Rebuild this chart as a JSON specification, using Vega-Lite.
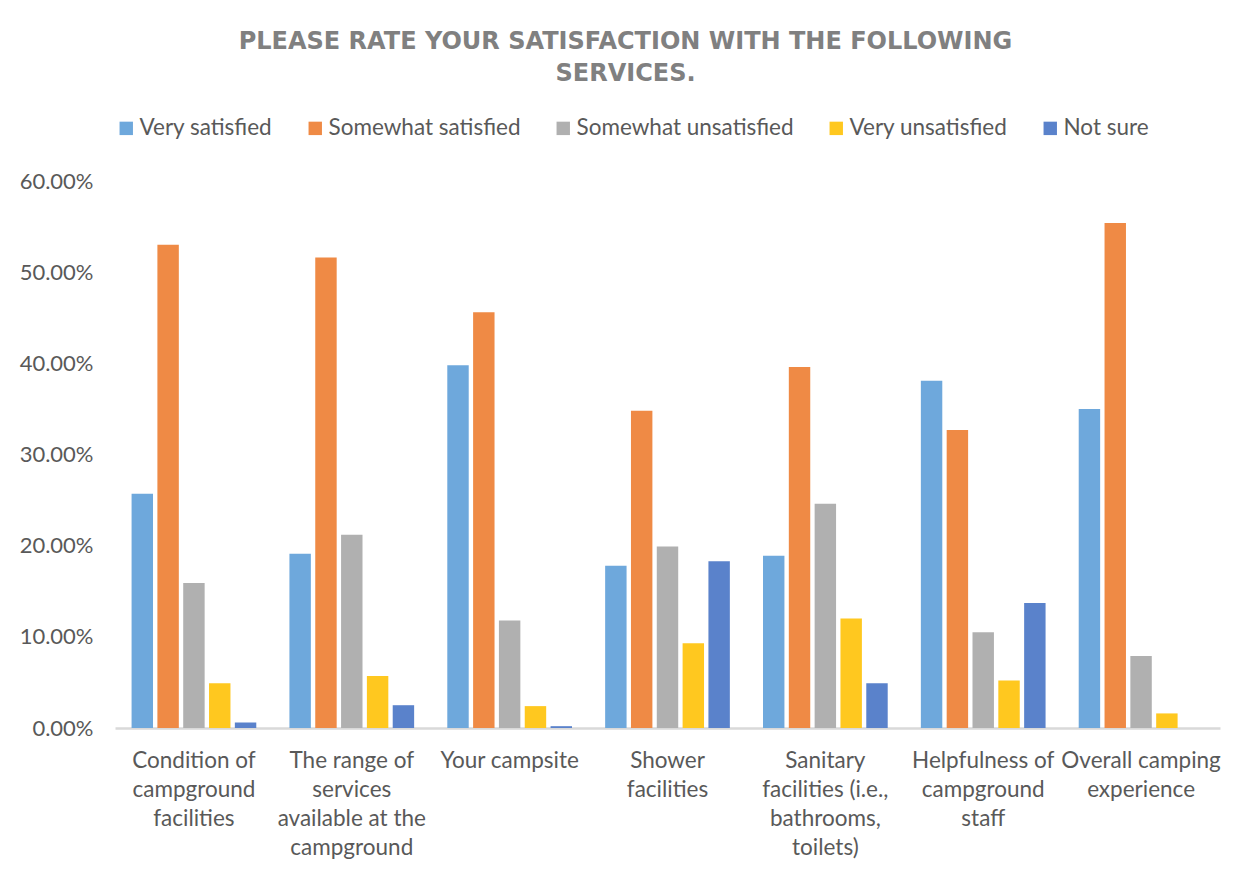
{
  "$schema": "https://vega.github.io/schema/vega-lite/v6.json",
  "width": 1105,
  "height": 547,
  "autosize": {"type": "none"},
  "padding": {"left": 115, "top": 181, "right": 30, "bottom": 150},
  "background": "white",
  "config": {
    "view": {"stroke": null},
    "font": "Lato"
  },
  "title": {
    "text": ["PLEASE RATE YOUR SATISFACTION WITH THE FOLLOWING", "SERVICES."],
    "font": "DejaVu Sans",
    "fontSize": 24,
    "fontWeight": "bold",
    "color": "#808080",
    "lineHeight": 32,
    "anchor": "middle",
    "dx": -42,
    "offset": 31
  },
  "data": {
    "values": [
      {"item": "Condition of campground facilities", "rating": "Very satisfied", "pct": 0.257},
      {"item": "Condition of campground facilities", "rating": "Somewhat satisfied", "pct": 0.530},
      {"item": "Condition of campground facilities", "rating": "Somewhat unsatisfied", "pct": 0.159},
      {"item": "Condition of campground facilities", "rating": "Very unsatisfied", "pct": 0.049},
      {"item": "Condition of campground facilities", "rating": "Not sure", "pct": 0.006},
      {"item": "The range of services available at the campground", "rating": "Very satisfied", "pct": 0.191},
      {"item": "The range of services available at the campground", "rating": "Somewhat satisfied", "pct": 0.516},
      {"item": "The range of services available at the campground", "rating": "Somewhat unsatisfied", "pct": 0.212},
      {"item": "The range of services available at the campground", "rating": "Very unsatisfied", "pct": 0.057},
      {"item": "The range of services available at the campground", "rating": "Not sure", "pct": 0.025},
      {"item": "Your campsite", "rating": "Very satisfied", "pct": 0.398},
      {"item": "Your campsite", "rating": "Somewhat satisfied", "pct": 0.456},
      {"item": "Your campsite", "rating": "Somewhat unsatisfied", "pct": 0.118},
      {"item": "Your campsite", "rating": "Very unsatisfied", "pct": 0.024},
      {"item": "Your campsite", "rating": "Not sure", "pct": 0.002},
      {"item": "Shower facilities", "rating": "Very satisfied", "pct": 0.178},
      {"item": "Shower facilities", "rating": "Somewhat satisfied", "pct": 0.348},
      {"item": "Shower facilities", "rating": "Somewhat unsatisfied", "pct": 0.199},
      {"item": "Shower facilities", "rating": "Very unsatisfied", "pct": 0.093},
      {"item": "Shower facilities", "rating": "Not sure", "pct": 0.183},
      {"item": "Sanitary facilities (i.e., bathrooms, toilets)", "rating": "Very satisfied", "pct": 0.189},
      {"item": "Sanitary facilities (i.e., bathrooms, toilets)", "rating": "Somewhat satisfied", "pct": 0.396},
      {"item": "Sanitary facilities (i.e., bathrooms, toilets)", "rating": "Somewhat unsatisfied", "pct": 0.246},
      {"item": "Sanitary facilities (i.e., bathrooms, toilets)", "rating": "Very unsatisfied", "pct": 0.120},
      {"item": "Sanitary facilities (i.e., bathrooms, toilets)", "rating": "Not sure", "pct": 0.049},
      {"item": "Helpfulness of campground staff", "rating": "Very satisfied", "pct": 0.381},
      {"item": "Helpfulness of campground staff", "rating": "Somewhat satisfied", "pct": 0.327},
      {"item": "Helpfulness of campground staff", "rating": "Somewhat unsatisfied", "pct": 0.105},
      {"item": "Helpfulness of campground staff", "rating": "Very unsatisfied", "pct": 0.052},
      {"item": "Helpfulness of campground staff", "rating": "Not sure", "pct": 0.137},
      {"item": "Overall camping experience", "rating": "Very satisfied", "pct": 0.350},
      {"item": "Overall camping experience", "rating": "Somewhat satisfied", "pct": 0.554},
      {"item": "Overall camping experience", "rating": "Somewhat unsatisfied", "pct": 0.079},
      {"item": "Overall camping experience", "rating": "Very unsatisfied", "pct": 0.016}
    ]
  },
  "mark": {"type": "bar"},
  "encoding": {
    "x": {
      "field": "item",
      "type": "nominal",
      "sort": null,
      "title": null,
      "scale": {"paddingInner": 0.21, "paddingOuter": 0.105},
      "axis": {
        "labelAngle": 0,
        "labelFontSize": 22.5,
        "labelColor": "#595959",
        "labelLineHeight": 29,
        "labelPadding": 32,
        "labelBaseline": "middle",
        "labelOverlap": false,
        "ticks": false,
        "domainColor": "#D9D9D9",
        "domainWidth": 2.5,
        "labelLimit": 220,
        "labelExpr": "datum.value == 'Condition of campground facilities' ? ['Condition of', 'campground', 'facilities'] : datum.value == 'The range of services available at the campground' ? ['The range of', 'services', 'available at the', 'campground'] : datum.value == 'Shower facilities' ? ['Shower', 'facilities'] : datum.value == 'Sanitary facilities (i.e., bathrooms, toilets)' ? ['Sanitary', 'facilities (i.e.,', 'bathrooms,', 'toilets)'] : datum.value == 'Helpfulness of campground staff' ? ['Helpfulness of', 'campground', 'staff'] : datum.value == 'Overall camping experience' ? ['Overall camping', 'experience'] : datum.value"
      }
    },
    "xOffset": {
      "field": "rating",
      "type": "nominal",
      "sort": ["Very satisfied", "Somewhat satisfied", "Somewhat unsatisfied", "Very unsatisfied", "Not sure"],
      "scale": {"paddingInner": 0.17, "domain": ["Very satisfied", "Somewhat satisfied", "Somewhat unsatisfied", "Very unsatisfied", "Not sure"]}
    },
    "y": {
      "field": "pct",
      "type": "quantitative",
      "title": null,
      "scale": {"domain": [0, 0.6]},
      "axis": {
        "format": ".2%",
        "values": [0, 0.1, 0.2, 0.3, 0.4, 0.5, 0.6],
        "labelOverlap": false,
        "grid": false,
        "domain": false,
        "ticks": false,
        "labelFontSize": 22,
        "labelColor": "#595959",
        "labelPadding": 22
      }
    },
    "color": {
      "field": "rating",
      "type": "nominal",
      "title": null,
      "scale": {
        "domain": ["Very satisfied", "Somewhat satisfied", "Somewhat unsatisfied", "Very unsatisfied", "Not sure"],
        "range": ["#6EA8DC", "#EF8A45", "#B0B0B0", "#FFC81F", "#5A82CB"]
      },
      "legend": {
        "orient": "top",
        "direction": "horizontal",
        "symbolType": "square",
        "symbolSize": 180,
        "symbolStrokeWidth": 0,
        "labelFontSize": 22.5,
        "labelColor": "#595959",
        "labelOffset": 2,
        "columnPadding": 31,
        "labelLimit": 300,
        "offset": 41
      }
    }
  }
}
